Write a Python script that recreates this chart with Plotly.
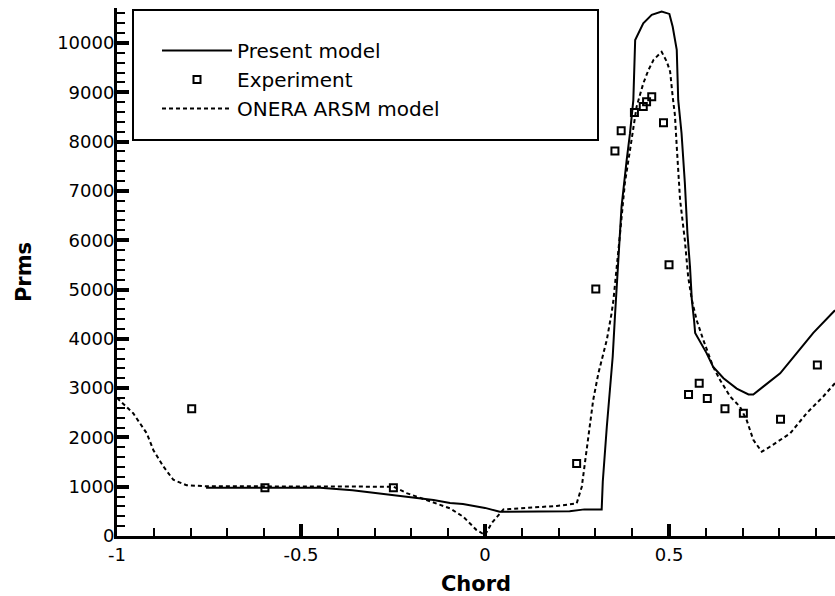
import plotly.graph_objects as go

# ---------------- data ----------------
present_x = [-0.758, -0.448, -0.36, -0.285, -0.204, -0.14, -0.095, -0.06, 0.0, 0.04,
             0.23, 0.27, 0.317, 0.320, 0.331, 0.340, 0.347, 0.353, 0.371, 0.385,
             0.394, 0.403, 0.405, 0.408, 0.430, 0.453, 0.480, 0.501, 0.510, 0.521,
             0.525, 0.534, 0.543, 0.550, 0.557, 0.562, 0.568, 0.571, 0.602, 0.620,
             0.648, 0.684, 0.716, 0.729, 0.756, 0.802, 0.847, 0.892, 0.951]
present_y = [980, 980, 930, 866, 797, 730, 670, 650, 570, 490,
             500, 540, 540, 1100, 2220, 3100, 3640, 4450, 6680, 7630,
             8170, 8840, 9520, 10060, 10400, 10570, 10640, 10590, 10330, 9860,
             8840, 8170, 7160, 6140, 5460, 4790, 4380, 4120, 3710, 3430,
             3200, 2990, 2870, 2870, 3030, 3300, 3710, 4120, 4580]

exp_x = [-0.797, -0.598, -0.249, 0.249, 0.301, 0.353, 0.370, 0.406, 0.430, 0.439,
         0.453, 0.485, 0.500, 0.553, 0.582, 0.604, 0.652, 0.702, 0.803, 0.903]
exp_y = [2580, 980, 980, 1470, 5010, 7810, 8220, 8590, 8710, 8810,
         8910, 8380, 5500, 2870, 3100, 2790, 2580, 2490, 2370, 3470]

onera_x = [-1.0, -0.956, -0.919, -0.901, -0.874, -0.847, -0.811, -0.757, -0.249, -0.213,
           -0.159, -0.095, -0.059, -0.023, 0.0, 0.018, 0.041, 0.050, 0.195, 0.249,
           0.263, 0.272, 0.281, 0.294, 0.308, 0.317, 0.331, 0.344, 0.349, 0.367,
           0.380, 0.394, 0.412, 0.430, 0.444, 0.458, 0.480, 0.494, 0.503, 0.510,
           0.516, 0.521, 0.530, 0.543, 0.552, 0.562, 0.575, 0.593, 0.620, 0.639,
           0.666, 0.693, 0.711, 0.729, 0.752, 0.774, 0.829, 0.874, 0.919, 0.951]
onera_y = [2800, 2490, 2080, 1740, 1410, 1140, 1030, 1010, 1000, 870,
           730, 560, 390, 120, 20, 260, 460, 540, 610, 660,
           1000, 1540, 2080, 2760, 3300, 3570, 3980, 4520, 4790, 6140,
           7160, 7830, 8710, 9180, 9450, 9660, 9820, 9620, 9420, 8910,
           8540, 7900, 6820, 6000, 5260, 4790, 4380, 3980, 3430, 3160,
           2830, 2620, 2350, 1950, 1710, 1810, 2080, 2490, 2830, 3100]

x_tickvals = [-1, -0.5, 0, 0.5]
x_ticktext = ["-1", "-0.5", "0", "0.5"]
y_tickvals = [0, 1000, 2000, 3000, 4000, 5000, 6000, 7000, 8000, 9000, 10000]
y_ticktext = [str(v) for v in y_tickvals]

series_names = ["Present model", "Experiment", "ONERA ARSM model"]

# ---------------- layout geometry ----------------
W, H = 835, 596
ML, MR, MT, MB = 117, 0, 8, 60
PW = W - ML - MR
PH = H - MT - MB

FONT = "DejaVu Sans"

fig = go.Figure()
fig.add_trace(go.Scatter(x=present_x, y=present_y, mode="lines", name=series_names[0],
                         line=dict(color="black", width=2)))
fig.add_trace(go.Scatter(x=exp_x, y=exp_y, mode="markers", name=series_names[1],
                         marker=dict(symbol="square-open", size=7, color="black",
                                     line=dict(color="black", width=2))))
fig.add_trace(go.Scatter(x=onera_x, y=onera_y, mode="lines", name=series_names[2],
                         line=dict(color="black", width=2, dash="4px,3px")))


def px_to_paper_x(px):
    return (px - ML) / PW


def px_to_paper_y(py):
    return (H - MB - py) / PH


fig.update_layout(
    width=W, height=H,
    margin=dict(l=ML, r=MR, t=MT, b=MB, pad=0),
    paper_bgcolor="white", plot_bgcolor="white",
    font=dict(family=FONT, color="black", size=18),
    showlegend=True,
    legend=dict(
        x=px_to_paper_x(157), y=px_to_paper_y(31), xanchor="left", yanchor="top",
        bgcolor="rgba(0,0,0,0)", borderwidth=0,
        font=dict(family=FONT, size=20, color="black"),
        itemwidth=70, tracegroupgap=0,
    ),
    shapes=[dict(type="rect", xref="paper", yref="paper",
                 x0=px_to_paper_x(133), x1=px_to_paper_x(598),
                 y0=px_to_paper_y(140), y1=px_to_paper_y(10),
                 line=dict(color="black", width=2), fillcolor="rgba(0,0,0,0)", layer="above")],
    xaxis=dict(
        range=[-1, 0.951], showgrid=False, zeroline=False,
        showline=True, linecolor="black", linewidth=3,
        tickmode="array", tickvals=x_tickvals, ticktext=x_ticktext,
        ticks="inside", ticklen=12, tickwidth=3.5, tickcolor="black",
        tickfont=dict(family=FONT, size=18, color="black"),
        minor=dict(ticks="inside", dtick=0.1, ticklen=8, tickwidth=1.5, tickcolor="black", showgrid=False),
        title=dict(text="<b>Chord</b>", font=dict(family=FONT, size=21, color="black"), standoff=13),
    ),
    yaxis=dict(
        range=[0, 10710], showgrid=False, zeroline=False,
        showline=True, linecolor="black", linewidth=3,
        tickmode="array", tickvals=y_tickvals, ticktext=y_ticktext,
        ticks="inside", ticklen=12, tickwidth=3.5, tickcolor="black",
        ticklabelstandoff=-4,
        tickfont=dict(family=FONT, size=18, color="black"),
        minor=dict(ticks="inside", dtick=200, ticklen=8, tickwidth=1.5, tickcolor="black", showgrid=False),
        title=dict(text="<b>Prms</b>", font=dict(family=FONT, size=21, color="black"), standoff=20),
    ),
)

fig.write_html("out.html")
